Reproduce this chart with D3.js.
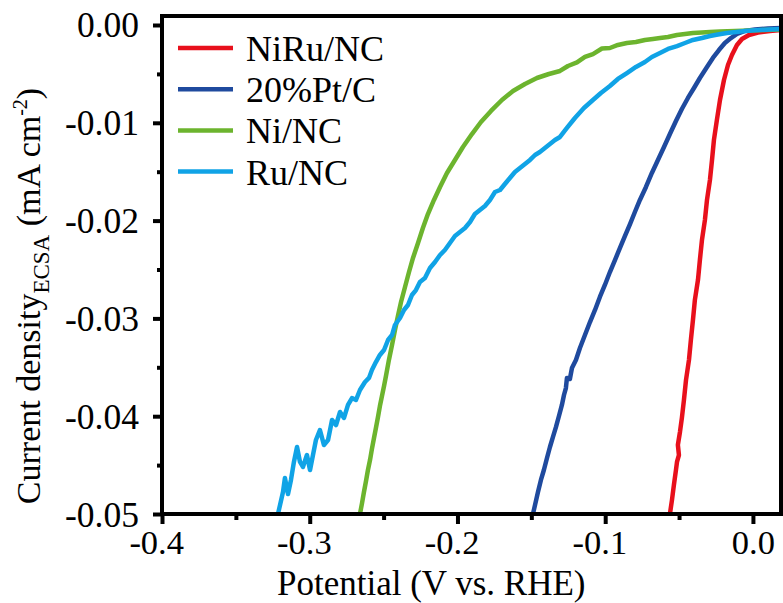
<!DOCTYPE html>
<html><head><meta charset="utf-8">
<script src="https://cdn.jsdelivr.net/npm/d3@7"></script>
<style>
body{margin:0;background:#fff}
svg{display:block}
svg text{font-family:"Liberation Serif","DejaVu Serif",serif;fill:#000}
</style>
</head><body>
<svg id="c" width="783" height="603"></svg>
<script>
// ---- data (Potential in V vs. RHE, current density in mA cm^-2) ----
const seriesNames = ["NiRu/NC","20%Pt/C","Ni/NC","Ru/NC"];
const seriesColors = ["#e8101c","#1f4a9e","#6cb42e","#10a3e6"];

const niruV = [-0.0562,-0.0548,-0.0535,-0.0521,-0.0514,-0.0501,-0.0508,-0.0494,-0.0481,-0.0467,-0.0453,-0.0433,-0.0420,-0.0406,-0.0393,-0.0372,-0.0359,-0.0345,-0.0325,-0.0311,-0.0291,-0.0277,-0.0264,-0.0244,-0.0223,-0.0196,-0.0169,-0.0142,-0.0108,-0.0074,-0.0027,0.0034,0.0115,0.0190];
const niruJ = [-0.05000,-0.04857,-0.04703,-0.04550,-0.04468,-0.04397,-0.04294,-0.04162,-0.04018,-0.03834,-0.03630,-0.03425,-0.03221,-0.03016,-0.02812,-0.02607,-0.02403,-0.02198,-0.01994,-0.01789,-0.01585,-0.01380,-0.01176,-0.00971,-0.00767,-0.00562,-0.00409,-0.00307,-0.00204,-0.00143,-0.00102,-0.00077,-0.00061,-0.00051];

const ptV = [-0.1489,-0.1475,-0.1455,-0.1435,-0.1415,-0.1394,-0.1374,-0.1354,-0.1333,-0.1313,-0.1293,-0.1279,-0.1266,-0.1259,-0.1239,-0.1225,-0.1198,-0.1171,-0.1137,-0.1103,-0.1069,-0.1036,-0.1002,-0.0968,-0.0934,-0.0900,-0.0866,-0.0832,-0.0799,-0.0765,-0.0724,-0.0684,-0.0643,-0.0602,-0.0562,-0.0521,-0.0481,-0.0440,-0.0399,-0.0359,-0.0311,-0.0271,-0.0230,-0.0190,-0.0149,-0.0108,-0.0054,0.0014,0.0102,0.0190];
const ptJ = [-0.05000,-0.04908,-0.04775,-0.04652,-0.04550,-0.04427,-0.04315,-0.04213,-0.04110,-0.03998,-0.03885,-0.03783,-0.03712,-0.03609,-0.03620,-0.03507,-0.03425,-0.03303,-0.03170,-0.03037,-0.02914,-0.02781,-0.02658,-0.02526,-0.02403,-0.02280,-0.02157,-0.02035,-0.01912,-0.01789,-0.01656,-0.01513,-0.01380,-0.01247,-0.01115,-0.00982,-0.00859,-0.00746,-0.00644,-0.00542,-0.00429,-0.00337,-0.00256,-0.00184,-0.00133,-0.00092,-0.00061,-0.00046,-0.00036,-0.00031];

const niV = [-0.2660,-0.2646,-0.2633,-0.2619,-0.2606,-0.2592,-0.2579,-0.2565,-0.2552,-0.2538,-0.2525,-0.2511,-0.2497,-0.2484,-0.2464,-0.2443,-0.2423,-0.2403,-0.2382,-0.2355,-0.2328,-0.2301,-0.2267,-0.2234,-0.2200,-0.2159,-0.2118,-0.2071,-0.2017,-0.1963,-0.1902,-0.1841,-0.1773,-0.1699,-0.1624,-0.1543,-0.1462,-0.1381,-0.1306,-0.1252,-0.1191,-0.1137,-0.1083,-0.1022,-0.0968,-0.0914,-0.0853,-0.0792,-0.0731,-0.0677,-0.0629,-0.0575,-0.0514,-0.0460,-0.0406,-0.0345,-0.0291,-0.0223,-0.0122,-0.0020,0.0081,0.0190];
const niJ = [-0.05000,-0.04888,-0.04775,-0.04663,-0.04550,-0.04448,-0.04335,-0.04223,-0.04121,-0.04008,-0.03896,-0.03793,-0.03691,-0.03589,-0.03425,-0.03272,-0.03119,-0.02975,-0.02832,-0.02679,-0.02526,-0.02382,-0.02229,-0.02076,-0.01933,-0.01789,-0.01656,-0.01513,-0.01380,-0.01247,-0.01115,-0.00992,-0.00879,-0.00767,-0.00675,-0.00603,-0.00542,-0.00501,-0.00470,-0.00419,-0.00383,-0.00327,-0.00297,-0.00240,-0.00235,-0.00204,-0.00184,-0.00174,-0.00153,-0.00143,-0.00133,-0.00123,-0.00102,-0.00092,-0.00082,-0.00077,-0.00072,-0.00066,-0.00061,-0.00056,-0.00051,-0.00046];

const ruV = [-0.3215,-0.3201,-0.3181,-0.3168,-0.3147,-0.3127,-0.3107,-0.3086,-0.3066,-0.3046,-0.3019,-0.2998,-0.2978,-0.2958,-0.2931,-0.2904,-0.2876,-0.2849,-0.2822,-0.2795,-0.2768,-0.2741,-0.2714,-0.2687,-0.2660,-0.2626,-0.2599,-0.2579,-0.2552,-0.2525,-0.2497,-0.2470,-0.2443,-0.2423,-0.2389,-0.2362,-0.2335,-0.2308,-0.2281,-0.2254,-0.2220,-0.2186,-0.2152,-0.2118,-0.2085,-0.2051,-0.2017,-0.1983,-0.1949,-0.1915,-0.1882,-0.1848,-0.1814,-0.1780,-0.1746,-0.1712,-0.1679,-0.1645,-0.1611,-0.1577,-0.1543,-0.1509,-0.1475,-0.1442,-0.1408,-0.1374,-0.1340,-0.1306,-0.1259,-0.1205,-0.1144,-0.1083,-0.1029,-0.0968,-0.0914,-0.0853,-0.0792,-0.0731,-0.0684,-0.0629,-0.0575,-0.0514,-0.0460,-0.0406,-0.0345,-0.0291,-0.0237,-0.0176,-0.0115,-0.0054,-0.0007,0.0047,0.0115,0.0190];
const ruJ = [-0.05000,-0.04908,-0.04775,-0.04632,-0.04796,-0.04652,-0.04468,-0.04315,-0.04468,-0.04519,-0.04397,-0.04550,-0.04397,-0.04243,-0.04141,-0.04294,-0.04243,-0.04039,-0.04090,-0.03957,-0.04018,-0.03885,-0.03814,-0.03834,-0.03732,-0.03650,-0.03609,-0.03528,-0.03446,-0.03374,-0.03323,-0.03221,-0.03170,-0.03067,-0.02996,-0.02914,-0.02863,-0.02761,-0.02710,-0.02628,-0.02587,-0.02485,-0.02423,-0.02352,-0.02301,-0.02229,-0.02157,-0.02117,-0.02076,-0.02014,-0.01933,-0.01892,-0.01851,-0.01789,-0.01708,-0.01687,-0.01626,-0.01564,-0.01503,-0.01462,-0.01421,-0.01380,-0.01329,-0.01299,-0.01258,-0.01217,-0.01176,-0.01145,-0.01053,-0.00951,-0.00849,-0.00767,-0.00695,-0.00624,-0.00552,-0.00491,-0.00429,-0.00378,-0.00327,-0.00286,-0.00245,-0.00215,-0.00184,-0.00153,-0.00133,-0.00112,-0.00097,-0.00082,-0.00072,-0.00061,-0.00056,-0.00051,-0.00046,-0.00041];

const xMajor = [-0.4,-0.3,-0.2,-0.1,0.0];
const xMinor = [-0.35,-0.25,-0.15,-0.05];
const yMajor = [0.00,-0.01,-0.02,-0.03,-0.04,-0.05];
const yMinor = [-0.005,-0.015,-0.025,-0.035,-0.045];
const xDomain = [-0.4, 0.019];
const yDomain = [-0.05, 0.00092];
const xTitle = "Potential (V vs. RHE)";

// ---- drawing ----
const svg = d3.select("#c");
const L=162, R=781, T=16, B=514;
const x = d3.scaleLinear().domain(xDomain).range([L,R]);
const y = d3.scaleLinear().domain(yDomain).range([B,T]);

svg.append("defs").append("clipPath").attr("id","clip")
  .append("rect").attr("x",L).attr("y",T).attr("width",R-L).attr("height",B-T);

const series = [[niruV,niruJ],[ptV,ptJ],[niV,niJ],[ruV,ruJ]];
const line = d3.line().x(d=>x(d[0])).y(d=>y(d[1]));
const plot = svg.append("g").attr("clip-path","url(#clip)");
series.forEach((s,i)=>{
  const pts = s[0].map((v,k)=>[v,s[1][k]]);
  plot.append("path").datum(pts).attr("d",line)
    .attr("fill","none").attr("stroke",seriesColors[i])
    .attr("stroke-width",4.5).attr("stroke-linejoin","round").attr("stroke-linecap","round");
});

// axes
function style(g){
  g.attr("font-family",null).attr("font-size",null);
  g.select(".domain").remove();
  g.selectAll(".tick line").attr("stroke","#000").attr("stroke-width",4);
}
const gx = svg.append("g").attr("transform",`translate(0,${B})`)
  .call(d3.axisBottom(x).tickValues(xMajor).tickSize(10).tickFormat(d=>d.toFixed(1)));
style(gx);
gx.selectAll("text").attr("font-size",34.5).attr("text-anchor","end").attr("x",21.5).attr("y",40).attr("dy",0);
const gxm = svg.append("g").attr("transform",`translate(0,${B})`)
  .call(d3.axisBottom(x).tickValues(xMinor).tickSize(6).tickFormat(""));
style(gxm);

const gy = svg.append("g").attr("transform",`translate(${L},0)`)
  .call(d3.axisLeft(y).tickValues(yMajor).tickSize(9).tickFormat(d=>d.toFixed(2)));
style(gy);
gy.selectAll("text").attr("font-size",35.5).attr("text-anchor","end").attr("x",-23).attr("dy",12);
const gym = svg.append("g").attr("transform",`translate(${L},0)`)
  .call(d3.axisLeft(y).tickValues(yMinor).tickSize(5).tickFormat(""));
style(gym);

// frame
svg.append("rect").attr("x",L).attr("y",T).attr("width",R-L).attr("height",B-T)
  .attr("fill","none").attr("stroke","#000").attr("stroke-width",4);

// titles
svg.append("text").attr("x",277).attr("y",595).attr("font-size",35).text(xTitle);
const yt = svg.append("text").attr("transform","translate(40,296) rotate(-90)")
  .attr("text-anchor","middle").attr("font-size",34);
yt.append("tspan").text("Current density");
yt.append("tspan").attr("font-size",23).attr("dy",9).text("ECSA");
yt.append("tspan").attr("dy",-9).text(" (mA cm");
yt.append("tspan").attr("font-size",20).attr("dy",-13).text("-2");
yt.append("tspan").attr("dy",13).text(")");

// legend
const lg = svg.append("g");
seriesNames.forEach((n,i)=>{
  const yy = 48 + i*41.2;
  lg.append("line").attr("x1",178).attr("x2",233).attr("y1",yy).attr("y2",yy)
    .attr("stroke",seriesColors[i]).attr("stroke-width",4.5);
  lg.append("text").attr("x",246).attr("y",yy+13).attr("font-size",36).text(n);
});
</script>
</body></html>
